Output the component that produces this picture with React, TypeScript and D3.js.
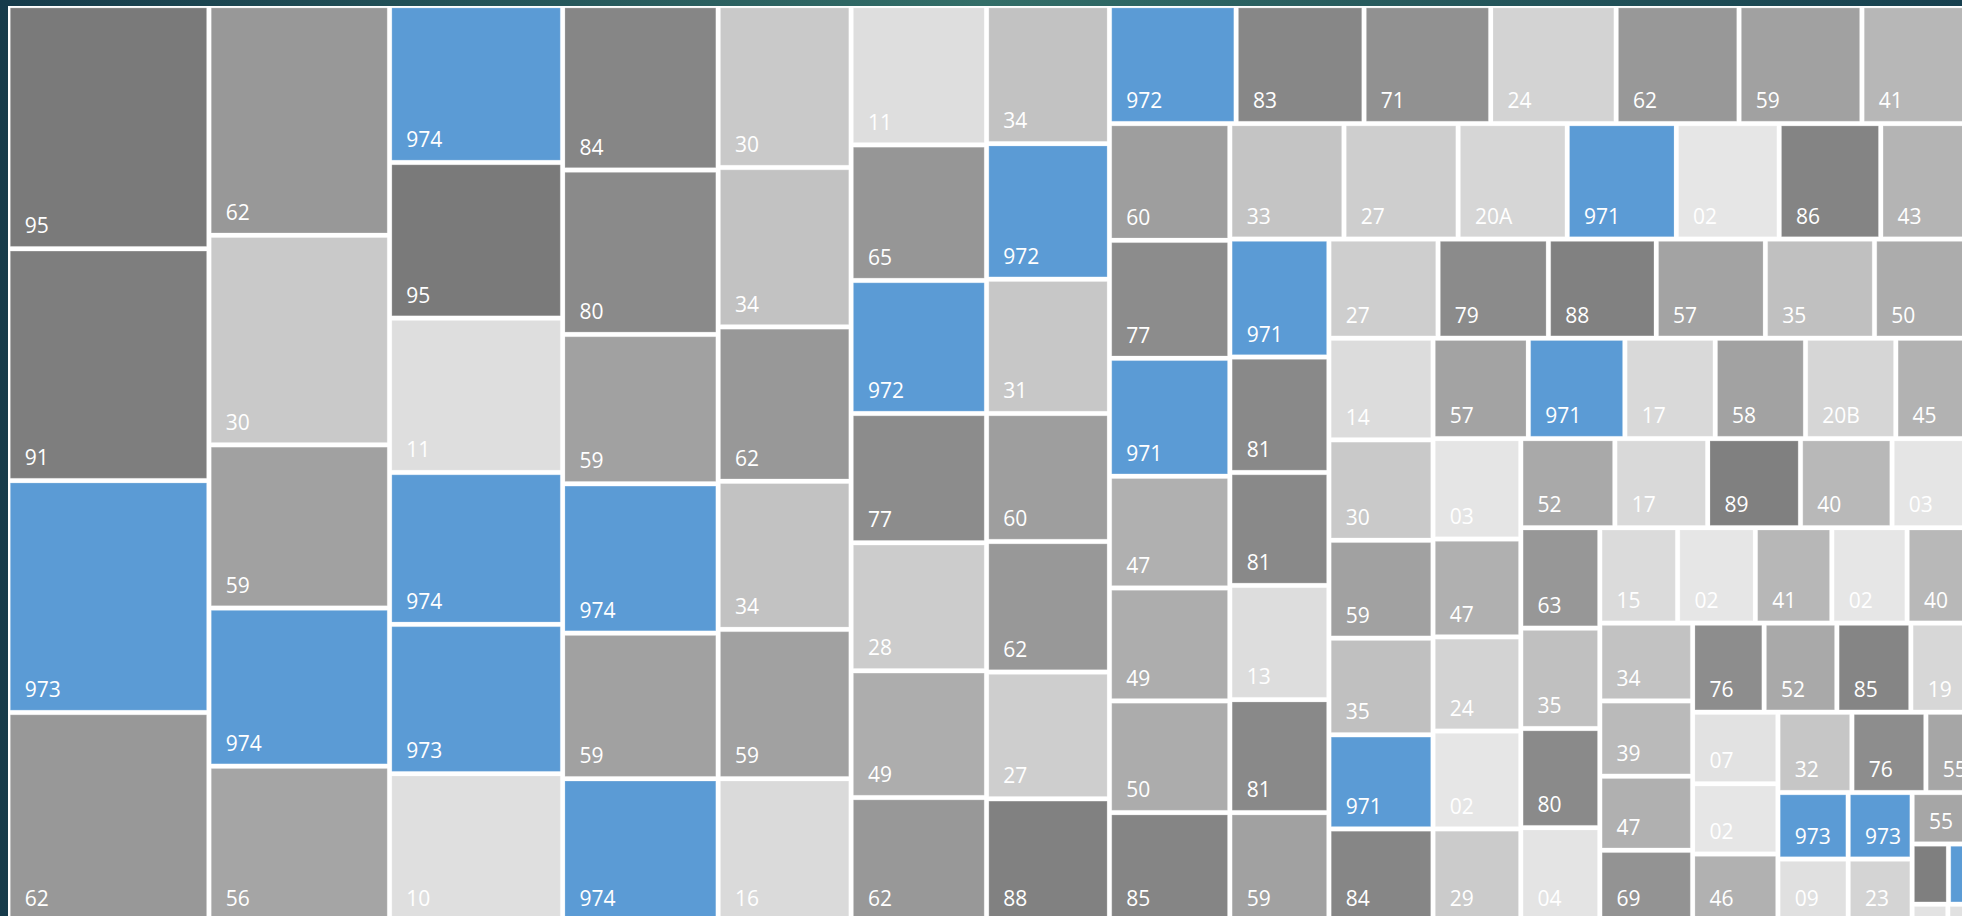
import * as d3 from 'd3';
import { useMemo } from 'react';

// RENDERING SETUP
const WIDTH = 1962;
const HEIGHT = 916;
const ORIGIN = { X: 9.8, Y: 7.4 };
const TREE_W = 1972;
const TREE_H = 912.6;
const GAP = 3.6;
const BLUE = '#5b9bd5';

// department codes in layout order (strip by strip)
const departments = [
  '95', '91', '973', '62',
  '62', '30', '59', '974', '56',
  '974', '95', '11', '974', '973', '10',
  '84', '80', '59', '974', '59', '974',
  '30', '34', '62', '34', '59', '16',
  '11', '65', '972', '77', '28', '49', '62',
  '34', '972', '31', '60', '62', '27', '88',
  '972', '83', '71', '24', '62', '59', '41',
  '60', '77', '971', '47', '49', '50', '85',
  '33', '27', '20A', '971', '02', '86', '43',
  '971', '81', '81', '13', '81', '59',
  '27', '79', '88', '57', '35', '50',
  '14', '30', '59', '35', '971', '84',
  '57', '971', '17', '58', '20B', '45',
  '03', '47', '24', '02', '29',
  '52', '17', '89', '40', '03',
  '63', '35', '80', '04',
  '15', '02', '41', '02', '40',
  '34', '39', '47', '69',
  '76', '52', '85', '19',
  '07', '02', '46',
  '32', '76', '55',
  '973', '09',
  '973', '23',
  '55',
  '90', '972',
  '05', '08',
];

// tile sizes, same order
const surfaces = [
  31040, 29600, 29600, 26720,
  26352, 24048, 18720, 18144, 17856,
  17250, 17112, 16974, 16698, 16422, 16284,
  16244, 16244, 14756, 14756, 14384, 14136,
  13674, 13462, 13038, 12508, 12614, 12084,
  11988, 11664, 11448, 11124, 11016, 10908, 10692,
  10780, 10584, 10486, 9996, 10192, 9898, 9604,
  9494, 9588, 9494, 9400, 9212, 9212, 9118,
  8928, 9024, 9024, 8544, 8640, 8544, 8352,
  8372, 8372, 8004, 8004, 7544, 7452, 7544,
  7426, 7268, 7110, 7189, 7110, 6873,
  6873, 6952, 6794, 6873, 6873, 6873,
  6723, 6640, 6474, 6391, 6225, 6142,
  6080, 6160, 5760, 5760, 5760, 5600,
  5600, 5460, 5250, 5460, 5180,
  5325, 5254, 5254, 5183, 5183,
  5040, 5040, 4977, 4725,
  4712, 4712, 4636, 4560, 4636,
  4588, 4440, 4366, 4218,
  4047, 4118, 4189, 4118,
  3876, 3808, 3672,
  3776, 3776, 2944,
  2968, 2800,
  2703, 2550,
  2337,
  1392, 1344,
  399, 399,
];

// how the squarified layout cut its strips
const stripSizes = [4, 5, 6, 6, 6, 7, 7, 7, 7, 7, 6, 6, 6, 6, 5, 5, 4, 5, 4, 4, 3, 3, 2, 2, 1, 2, 2];
const stripOrientation = [
  'col', 'col', 'col', 'col', 'col', 'col', 'col',
  'row', 'col', 'row', 'col', 'row', 'col', 'row', 'col', 'row', 'col', 'row', 'col', 'row', 'col', 'row',
  'col', 'col', 'row', 'row', 'row',
];

// grey ramp by department number
const shadeCodes = [2, 24, 40, 59, 62, 80, 95];
const shadeLevels = [230, 211, 184, 161, 152, 138, 122];

const grey = d3
  .scaleLinear<number>()
  .domain(shadeCodes)
  .range(shadeLevels)
  .clamp(true);

const colorOf = (code: string) => {
  if (code.startsWith('97')) return BLUE;
  const g = Math.round(grey(parseInt(code, 10)));
  return d3.rgb(g, g, g).formatHex();
};

const buildTree = () => {
  const strips: any[] = [];
  let k = 0;
  stripSizes.forEach((n, i) => {
    strips.push({
      kind: stripOrientation[i],
      children: departments.slice(k, k + n).map((code, j) => ({ code, value: surfaces[k + j] })),
    });
    k += n;
  });
  const nest = (i: number): any =>
    i === strips.length - 1 ? strips[i] : { kind: 'split', children: [strips[i], nest(i + 1)] };
  return nest(0);
};

// strips of columns go left to right, rows top to bottom
const tile = (node: any, x0: number, y0: number, x1: number, y1: number) => {
  const d = node.data;
  if (d.kind === 'split') {
    const first = d.children[0].kind;
    (first === 'col' ? d3.treemapDice : d3.treemapSlice)(node, x0, y0, x1, y1);
  } else {
    (d.kind === 'col' ? d3.treemapSlice : d3.treemapDice)(node, x0, y0, x1, y1);
  }
};

const App = () => {
  const leaves = useMemo(() => {
    const root = d3.hierarchy(buildTree()).sum((d: any) => d.value);
    d3.treemap().tile(tile).size([TREE_W, TREE_H]).paddingInner(GAP).round(false)(root as any);
    return root.leaves() as any[];
  }, []);

  return (
    <svg
      width={WIDTH}
      height={HEIGHT}
      style={{ position: 'fixed', left: 0, top: 0 }}
      fontFamily="'Open Sans', 'Noto Sans', sans-serif"
    >
      <defs>
        <linearGradient id="bg" x1="0" x2="1" y1="0" y2="0">
          <stop offset="0%" stopColor="#163b4b" />
          <stop offset="50%" stopColor="#336e68" />
          <stop offset="100%" stopColor="#17404f" />
        </linearGradient>
      </defs>
      <rect width={WIDTH} height={HEIGHT} fill="url(#bg)" />
      <rect x={8} y={6} width={WIDTH} height={HEIGHT} fill="#ffffff" />
      <g transform={`translate(${ORIGIN.X}, ${ORIGIN.Y})`}>
        {leaves.map((d, i) => (
          <g key={i}>
            <rect
              x={d.x0 + 0.5}
              y={d.y0 + 0.5}
              width={Math.max(0, d.x1 - d.x0 - 1)}
              height={Math.max(0, d.y1 - d.y0 - 1)}
              fill={colorOf(d.data.code)}
              stroke="#ffffff"
              strokeOpacity={0.22}
              strokeWidth={1}
            />
            {d.x1 - d.x0 > 40 && (
              <text x={d.x0 + 15} y={d.y1 - 13.5} fill="#ffffff" fontSize={21}>
                {d.data.code}
              </text>
            )}
          </g>
        ))}
      </g>
    </svg>
  );
};

export default App;
